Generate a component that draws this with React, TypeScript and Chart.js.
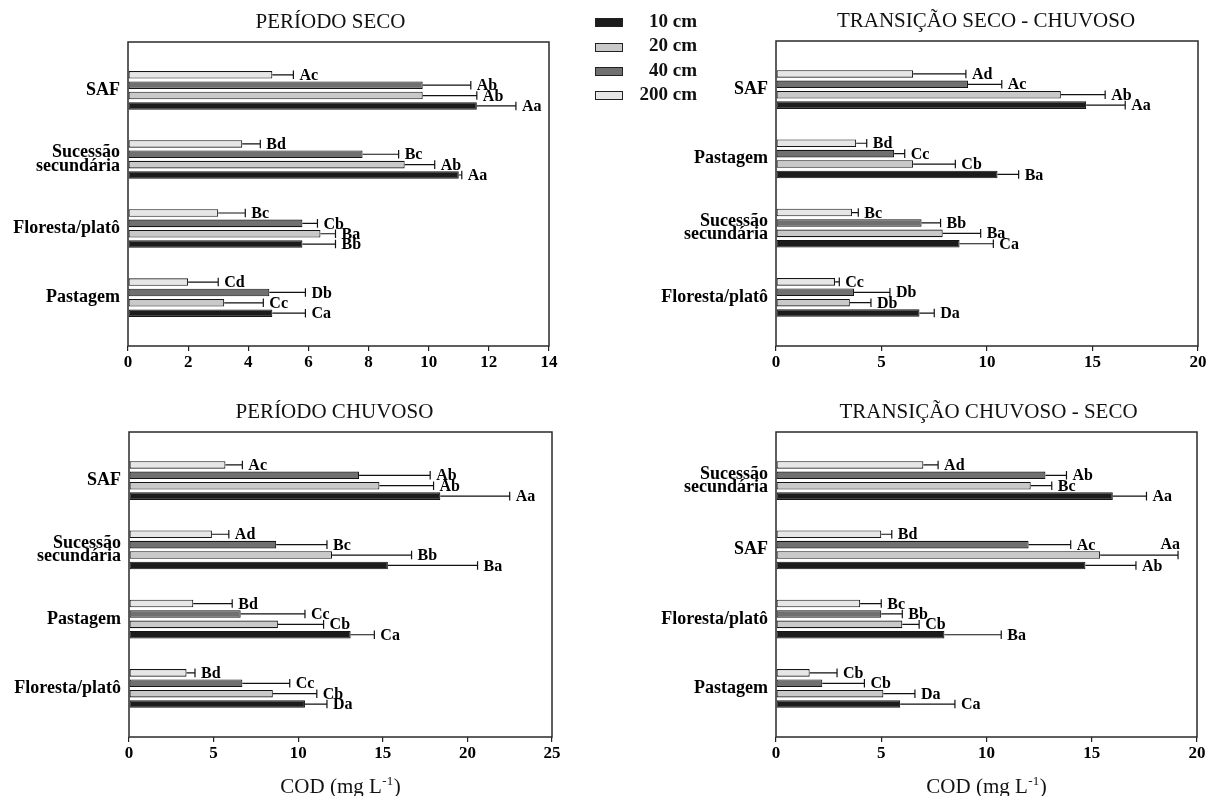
import React, { useEffect, useRef } from "react";
import { Chart, registerables } from "chart.js";

Chart.register(...registerables);

// ---------- data ----------
const DEPTHS = ["10 cm", "20 cm", "40 cm", "200 cm"];
const DEPTH_COLORS = ["#1c1c1c", "#c9c9c9", "#707070", "#e6e6e6"];
const X_TITLE = "COD (mg L";
const X_TITLE_SUP = "-1";
const X_TITLE_END = ")";

// PERÍODO SECO
const secoTitle = "PERÍODO SECO";
const secoCategories = ["SAF", ["Sucessão", "secundária"], "Floresta/platô", "Pastagem"];
const secoTicks = [0, 2, 4, 6, 8, 10, 12, 14];
const seco10 = [11.6, 11.0, 5.8, 4.8];
const seco20 = [9.8, 9.2, 6.4, 3.2];
const seco40 = [9.8, 7.8, 5.8, 4.7];
const seco200 = [4.8, 3.8, 3.0, 2.0];
const secoErr10 = [1.3, 0.1, 1.1, 1.1];
const secoErr20 = [1.8, 1.0, 0.5, 1.3];
const secoErr40 = [1.6, 1.2, 0.5, 1.2];
const secoErr200 = [0.7, 0.6, 0.9, 1.0];
const secoLet10 = ["Aa", "Aa", "Bb", "Ca"];
const secoLet20 = ["Ab", "Ab", "Ba", "Cc"];
const secoLet40 = ["Ab", "Bc", "Cb", "Db"];
const secoLet200 = ["Ac", "Bd", "Bc", "Cd"];

// TRANSIÇÃO SECO - CHUVOSO
const tscTitle = "TRANSIÇÃO SECO - CHUVOSO";
const tscCategories = ["SAF", "Pastagem", ["Sucessão", "secundária"], "Floresta/platô"];
const tscTicks = [0, 5, 10, 15, 20];
const tsc10 = [14.7, 10.5, 8.7, 6.8];
const tsc20 = [13.5, 6.5, 7.9, 3.5];
const tsc40 = [9.1, 5.6, 6.9, 3.7];
const tsc200 = [6.5, 3.8, 3.6, 2.8];
const tscErr10 = [1.85, 1.0, 1.6, 0.7];
const tscErr20 = [2.1, 2.0, 1.8, 1.0];
const tscErr40 = [1.6, 0.5, 0.9, 1.7];
const tscErr200 = [2.5, 0.5, 0.3, 0.2];
const tscLet10 = ["Aa", "Ba", "Ca", "Da"];
const tscLet20 = ["Ab", "Cb", "Ba", "Db"];
const tscLet40 = ["Ac", "Cc", "Bb", "Db"];
const tscLet200 = ["Ad", "Bd", "Bc", "Cc"];

// PERÍODO CHUVOSO
const chuTitle = "PERÍODO CHUVOSO";
const chuCategories = ["SAF", ["Sucessão", "secundária"], "Pastagem", "Floresta/platô"];
const chuTicks = [0, 5, 10, 15, 20, 25];
const chu10 = [18.4, 15.3, 13.1, 10.4];
const chu20 = [14.8, 12.0, 8.8, 8.5];
const chu40 = [13.6, 8.7, 6.6, 6.7];
const chu200 = [5.7, 4.9, 3.8, 3.4];
const chuErr10 = [4.1, 5.3, 1.4, 1.3];
const chuErr20 = [3.2, 4.7, 2.7, 2.6];
const chuErr40 = [4.2, 3.0, 3.8, 2.8];
const chuErr200 = [1.0, 1.0, 2.3, 0.5];
const chuLet10 = ["Aa", "Ba", "Ca", "Da"];
const chuLet20 = ["Ab", "Bb", "Cb", "Cb"];
const chuLet40 = ["Ab", "Bc", "Cc", "Cc"];
const chuLet200 = ["Ac", "Ad", "Bd", "Bd"];

// TRANSIÇÃO CHUVOSO - SECO
const tcsTitle = "TRANSIÇÃO CHUVOSO - SECO";
const tcsCategories = [["Sucessão", "secundária"], "SAF", "Floresta/platô", "Pastagem"];
const tcsTicks = [0, 5, 10, 15, 20];
const tcs10 = [16.0, 14.7, 8.0, 5.9];
const tcs20 = [12.1, 15.4, 6.0, 5.1];
const tcs40 = [12.8, 12.0, 5.0, 2.2];
const tcs200 = [7.0, 5.0, 4.0, 1.6];
const tcsErr10 = [1.6, 2.4, 2.7, 2.6];
const tcsErr20 = [1.0, 3.7, 0.8, 1.5];
const tcsErr40 = [1.0, 2.0, 1.0, 2.0];
const tcsErr200 = [0.7, 0.5, 1.0, 1.3];
const tcsLet10 = ["Aa", "Ab", "Ba", "Ca"];
const tcsLet20 = ["Bc", "Aa", "Cb", "Da"];
const tcsLet40 = ["Ab", "Ac", "Bb", "Cb"];
const tcsLet200 = ["Ad", "Bd", "Bc", "Cb"];

// ---------- layout ----------
const PAGE_W = 1210;
const PAGE_H = 796;
const Y_W = 125;
const X_H = 30;
const SERIF = '"Liberation Serif", "Times New Roman", serif';

type Panel = {
  title: string;
  categories: (string | string[])[];
  ticks: number[];
  means: number[][];
  errors: number[][];
  letters: string[][];
  area: { left: number; top: number; right: number; bottom: number };
  titleDx: number;
  xTitle: boolean;
};

const PANELS: Panel[] = [
  {
    title: secoTitle, categories: secoCategories, ticks: secoTicks,
    means: [seco10, seco20, seco40, seco200],
    errors: [secoErr10, secoErr20, secoErr40, secoErr200],
    letters: [secoLet10, secoLet20, secoLet40, secoLet200],
    area: { left: 128, top: 42, right: 549, bottom: 346 }, titleDx: -8, xTitle: false,
  },
  {
    title: tscTitle, categories: tscCategories, ticks: tscTicks,
    means: [tsc10, tsc20, tsc40, tsc200],
    errors: [tscErr10, tscErr20, tscErr40, tscErr200],
    letters: [tscLet10, tscLet20, tscLet40, tscLet200],
    area: { left: 776, top: 41, right: 1198, bottom: 346 }, titleDx: -1, xTitle: false,
  },
  {
    title: chuTitle, categories: chuCategories, ticks: chuTicks,
    means: [chu10, chu20, chu40, chu200],
    errors: [chuErr10, chuErr20, chuErr40, chuErr200],
    letters: [chuLet10, chuLet20, chuLet40, chuLet200],
    area: { left: 129, top: 432, right: 552, bottom: 737 }, titleDx: -6, xTitle: true,
  },
  {
    title: tcsTitle, categories: tcsCategories, ticks: tcsTicks,
    means: [tcs10, tcs20, tcs40, tcs200],
    errors: [tcsErr10, tcsErr20, tcsErr40, tcsErr200],
    letters: [tcsLet10, tcsLet20, tcsLet40, tcsLet200],
    area: { left: 776, top: 432, right: 1197, bottom: 737 }, titleDx: 2, xTitle: true,
  },
];

// order of bars from top to bottom inside a group: 200, 40, 20, 10 cm
const DRAW_ORDER = [3, 2, 1, 0];

const panelDeco = {
  id: "panelDeco",
  afterDatasetsDraw(chart: any, _args: any, opts: any) {
    const ctx = chart.ctx;
    const { right } = chart.chartArea;
    const xs = chart.scales.x;
    ctx.save();
    ctx.strokeStyle = "#111";
    ctx.lineWidth = 1.2;
    ctx.fillStyle = "#000";
    ctx.font = `bold 16px ${SERIF}`;
    ctx.textBaseline = "middle";
    ctx.textAlign = "left";
    chart.data.datasets.forEach((ds: any, di: number) => {
      const meta = chart.getDatasetMeta(di);
      meta.data.forEach((bar: any, i: number) => {
        const v = ds.data[i].x;
        const e = ds.errors[i];
        const x0 = bar.x;
        const x1 = xs.getPixelForValue(v + e);
        const y = bar.y;
        const h = bar.height;
        ctx.beginPath();
        ctx.moveTo(x0, y);
        ctx.lineTo(x1, y);
        ctx.moveTo(x1, y - h / 2 - 0.5);
        ctx.lineTo(x1, y + h / 2 + 0.5);
        ctx.stroke();
        const txt = ds.letters[i];
        const w = ctx.measureText(txt).width;
        let lx = x1 + 6;
        let ly = y + 1;
        if (lx + w > right) {
          lx = x1 - w + 2;
          ly = y - h * 1.3;
        }
        ctx.fillText(txt, lx, ly);
      });
    });
    ctx.restore();
  },
  afterDraw(chart: any, _args: any, opts: any) {
    const ctx = chart.ctx;
    const { left, top, right, bottom } = chart.chartArea;
    ctx.save();
    ctx.strokeStyle = "#2a2a2a";
    ctx.lineWidth = 1.5;
    ctx.strokeRect(left, top, right - left, bottom - top);
    ctx.fillStyle = "#111";
    ctx.font = `21px ${SERIF}`;
    ctx.textAlign = "center";
    ctx.textBaseline = "alphabetic";
    ctx.fillText(opts.title, (left + right) / 2 + opts.titleDx, top - 14.5);
    if (opts.xTitle) {
      const mainFont = `21px ${SERIF}`;
      const supFont = `13px ${SERIF}`;
      ctx.font = mainFont;
      const w1 = ctx.measureText(X_TITLE).width;
      const w3 = ctx.measureText(X_TITLE_END).width;
      ctx.font = supFont;
      const w2 = ctx.measureText(X_TITLE_SUP).width;
      const total = w1 + w2 + w3 + 1;
      let x = (left + right) / 2 - total / 2;
      const base = 793;
      ctx.textAlign = "left";
      ctx.font = mainFont;
      ctx.fillText(X_TITLE, x, base);
      x += w1 + 0.5;
      ctx.font = supFont;
      ctx.fillText(X_TITLE_SUP, x, base - 8);
      x += w2 + 0.5;
      ctx.font = mainFont;
      ctx.fillText(X_TITLE_END, x, base);
    }
    ctx.restore();
  },
};

function PanelChart({ panel }: { panel: Panel }) {
  const ref = useRef<HTMLCanvasElement | null>(null);
  useEffect(() => {
    if (!ref.current) return;
    const { area } = panel;
    const maxX = panel.ticks[panel.ticks.length - 1];
    const step = panel.ticks[1] - panel.ticks[0];
    const cats = panel.categories;
    const chart = new Chart(ref.current, {
      type: "bar",
      data: {
        datasets: DRAW_ORDER.map((d) => ({
          label: DEPTHS[d],
          data: panel.means[d].map((v, i) => ({ x: v, y: i })),
          backgroundColor: DEPTH_COLORS[d],
          borderColor: "#151515",
          borderWidth: 1.1,
          borderSkipped: false,
          categoryPercentage: 0.6,
          barPercentage: 0.73,
          errors: panel.errors[d],
          letters: panel.letters[d],
        })) as any,
      },
      options: {
        indexAxis: "y",
        animation: false,
        responsive: false,
        events: [],
        layout: {
          padding: {
            left: area.left - Y_W,
            top: area.top,
            right: PAGE_W - area.right,
            bottom: PAGE_H - area.bottom - X_H,
          },
        },
        plugins: {
          legend: { display: false },
          tooltip: { enabled: false },
          title: { display: false },
          panelDeco: { title: panel.title, titleDx: panel.titleDx, xTitle: panel.xTitle },
        } as any,
        scales: {
          x: {
            type: "linear",
            min: 0,
            max: maxX,
            afterBuildTicks: (s: any) => {
              s.ticks = panel.ticks.map((v) => ({ value: v }));
            },
            ticks: {
              stepSize: step,
              color: "#000",
              padding: 1,
              maxRotation: 0,
              autoSkip: false,
              font: { family: SERIF, size: 17, weight: "bold" },
            },
            grid: {
              display: true,
              drawOnChartArea: false,
              drawTicks: true,
              tickLength: 5,
              color: "#222",
              lineWidth: 1.2,
            },
            border: { display: false },
            afterFit: (s: any) => {
              s.height = X_H;
            },
          },
          y: {
            type: "linear",
            reverse: true,
            offset: false,
            grace: 0,
            min: -0.7,
            max: 3.7,
            afterBuildTicks: (s: any) => {
              s.ticks = cats.map((_, i) => ({ value: i }));
            },
            ticks: {
              autoSkip: false,
              color: "#000",
              padding: 8,
              callback: (value: any) => cats[Math.round(Number(value))] as any,
              font: { family: SERIF, size: 18, weight: "bold", lineHeight: 0.74 },
            },
            grid: { display: false, drawTicks: false, offset: false },
            border: { display: false },
            afterFit: (s: any) => {
              s.width = Y_W;
            },
          },
        },
      } as any,
      plugins: [panelDeco],
    });
    return () => chart.destroy();
  }, [panel]);
  return (
    <canvas
      ref={ref}
      width={PAGE_W}
      height={PAGE_H}
      style={{ position: "absolute", left: 0, top: 0, width: PAGE_W, height: PAGE_H }}
    />
  );
}

export default function App() {
  return (
    <div
      style={{
        position: "absolute",
        left: 0,
        top: 0,
        width: PAGE_W,
        height: PAGE_H,
        background: "#fff",
        overflow: "hidden",
      }}
    >
      {PANELS.map((p, i) => (
        <PanelChart key={i} panel={p} />
      ))}
      {DEPTHS.map((d, i) => (
        <React.Fragment key={d}>
          <div
            style={{
              position: "absolute",
              left: 595,
              top: 18.3 + 24.2 * i,
              width: 28,
              height: 9,
              background: DEPTH_COLORS[i],
              border: "1px solid #222",
              boxSizing: "border-box",
            }}
          />
          <div
            style={{
              position: "absolute",
              left: 620,
              top: 9.3 + 24.1 * i,
              width: 77,
              height: 24,
              lineHeight: "24px",
              textAlign: "right",
              fontFamily: SERIF,
              fontWeight: "bold",
              fontSize: 19,
              color: "#111",
              whiteSpace: "nowrap",
            }}
          >
            {d}
          </div>
        </React.Fragment>
      ))}
    </div>
  );
}
